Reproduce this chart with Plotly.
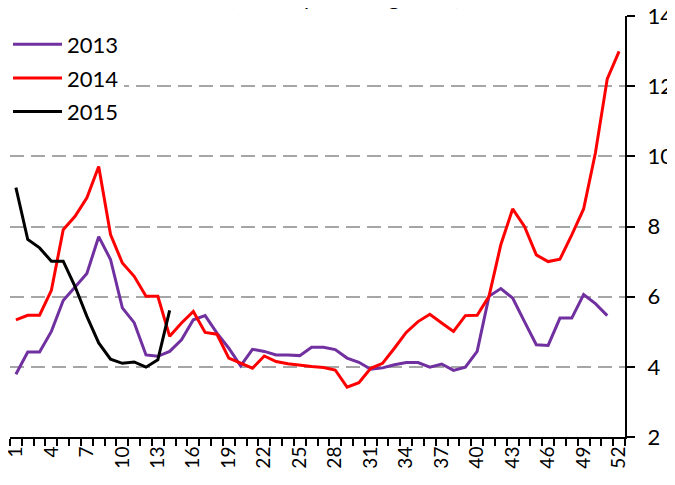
import plotly.graph_objects as go

weeks = list(range(1, 53))

y2013 = [3.79, 4.42, 4.42, 5.01, 5.89, 6.29, 6.66, 7.71, 7.06, 5.68,
         5.26, 4.34, 4.30, 4.44, 4.77, 5.34, 5.46, 4.96, 4.53, 4.03,
         4.50, 4.44, 4.34, 4.34, 4.32, 4.56, 4.56, 4.49, 4.25, 4.13,
         3.93, 3.97, 4.06, 4.12, 4.12, 3.99, 4.08, 3.90, 3.99, 4.44,
         6.01, 6.23, 5.96, 5.29, 4.63, 4.61, 5.39, 5.39, 6.06, 5.80,
         5.46]

y2014 = [5.34, 5.47, 5.47, 6.18, 7.91, 8.29, 8.82, 9.71, 7.77, 6.96,
         6.58, 6.01, 6.01, 4.87, 5.25, 5.58, 4.98, 4.93, 4.25, 4.10,
         3.96, 4.31, 4.15, 4.09, 4.04, 4.01, 3.98, 3.91, 3.42, 3.55,
         3.96, 4.10, 4.53, 4.98, 5.29, 5.50, 5.25, 5.01, 5.46, 5.47,
         6.01, 7.48, 8.50, 8.00, 7.19, 7.00, 7.07, 7.76, 8.50, 10.10,
         12.21, 12.99]

y2015 = [9.11, 7.63, 7.39, 7.01, 7.01, 6.29, 5.44, 4.68, 4.22, 4.10,
         4.14, 3.99, 4.20, 5.61]

series_names = ["2013", "2014", "2015"]
series_values = [y2013, y2014, y2015]
series_colors = ["#7030A0", "#FF0000", "#000000"]

x_tick_vals = weeks[::3]
x_tick_text = [str(w) for w in x_tick_vals]
y_tick_vals = [2, 4, 6, 8, 10, 12, 14]

title_text = "(annual percentage rate)"

FONT = "Lato"

fig = go.Figure()
for name, vals, col in zip(series_names, series_values, series_colors):
    fig.add_trace(go.Scatter(
        x=weeks[:len(vals)], y=vals, mode="lines", name=name,
        legendgroup=name,
        line=dict(color=col, width=3),
    ))

fig.update_layout(
    width=675, height=485,
    margin=dict(l=2, r=58, t=8, b=56, autoexpand=False),
    paper_bgcolor="white", plot_bgcolor="white",
    font=dict(family=FONT, color="black", size=20),
    showlegend=True,
    legend=dict(
        xref="container", yref="container",
        x=0.0, y=0.968, xanchor="left", yanchor="top",
        bgcolor="white", font=dict(size=22, family=FONT),
        traceorder="grouped", tracegroupgap=2, itemwidth=49,
    ),
    annotations=[dict(
        text=title_text, xref="paper", yref="paper",
        x=0.544, y=1.046, xanchor="center", yanchor="middle",
        showarrow=False, font=dict(size=22, family=FONT, color="black"),
    )],
)

fig.update_xaxes(
    range=[0.5, 52.5], automargin=False,
    tickmode="array", tickvals=x_tick_vals, ticktext=x_tick_text,
    tickangle=-90, ticks="", ticklabeloverflow="allow",
    tickfont=dict(size=19, family=FONT),
    showline=True, linecolor="black", linewidth=2,
    showgrid=False, zeroline=False,
    minor=dict(ticks="outside", tick0=0.5, dtick=1, ticklen=7,
               tickcolor="black", tickwidth=1.5, showgrid=False),
)

fig.update_yaxes(
    range=[2, 14], side="right", automargin=False,
    tickmode="array", tickvals=y_tick_vals, ticklabeloverflow="allow",
    ticks="outside", ticklen=8, tickcolor="black", tickwidth=2,
    tickfont=dict(size=22, family=FONT),
    showline=True, linecolor="black", linewidth=2,
    showgrid=True, gridcolor="#A6A6A6", gridwidth=2, griddash="14px,7px",
    zeroline=False, ticklabelstandoff=8,
)

fig.write_html("out.html")
